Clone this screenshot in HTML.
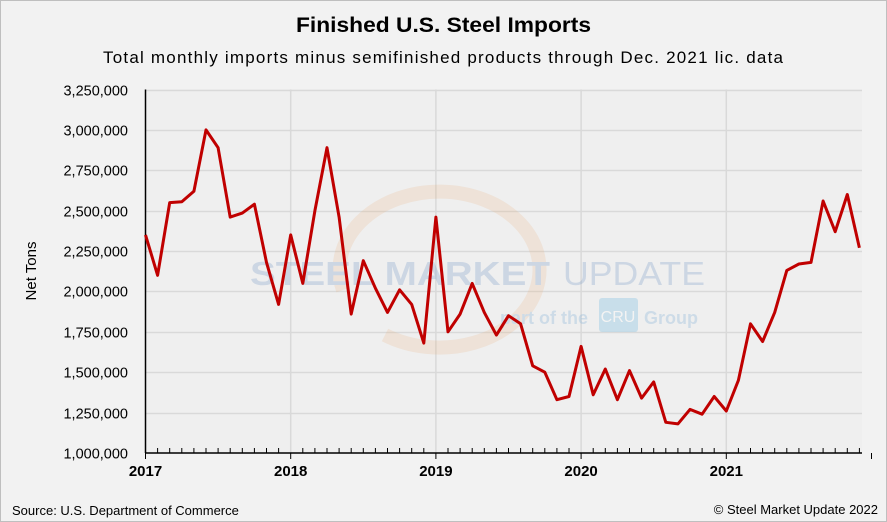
<!DOCTYPE html>
<html><head><meta charset="utf-8"><style>
html,body{margin:0;padding:0;background:#f2f2f2;}
svg{display:block;font-family:"Liberation Sans",sans-serif;}
</style></head><body>
<svg id="chart" width="887" height="522" viewBox="0 0 887 522">
<rect x="0.5" y="0.5" width="886" height="521" fill="#f2f2f2" stroke="#bfbfbf"/>
<text x="296" y="32" textLength="295" lengthAdjust="spacingAndGlyphs" font-size="21" font-weight="bold" fill="#000">Finished U.S. Steel Imports</text>
<text x="103" y="63" textLength="680" lengthAdjust="spacing" font-size="17" fill="#000">Total monthly imports minus semifinished products through Dec. 2021 lic. data</text>
<rect x="145" y="89" width="717" height="364" fill="#efefef"/>
<g id="grid"></g>
<g opacity="0.3">
<path d="M343 290 A100 78 0 1 1 385 335" fill="none" stroke="#e8b080" stroke-width="14" opacity="0.7"/>
<text x="250" y="285" textLength="300" lengthAdjust="spacingAndGlyphs" font-size="33" font-weight="bold" fill="#7f9fc8">STEEL MARKET</text>
<text x="563" y="285" textLength="142" lengthAdjust="spacingAndGlyphs" font-size="33" fill="#7f9fc8">UPDATE</text>
<text x="500" y="324" font-size="18" font-weight="bold" fill="#80b0d8">part of the</text>
<rect x="599" y="298" width="39" height="34" rx="3" fill="#70b8e0"/>
<text x="618" y="322" text-anchor="middle" font-size="16" fill="#fff">CRU</text>
<text x="644" y="324" font-size="18" font-weight="bold" fill="#80b0d8">Group</text>
</g>
<g id="axes"></g>
<path id="series" fill="none" stroke="#c00000" stroke-width="3" stroke-linejoin="round"/>
<text transform="translate(36,271) rotate(-90)" text-anchor="middle" font-size="15">Net Tons</text>
<text x="12" y="515" font-size="13">Source: U.S. Department of Commerce</text>
<text x="878" y="514" text-anchor="end" font-size="13">© Steel Market Update 2022</text>
</svg>
<script>
const years = ["2017","2018","2019","2020","2021"];
const yTicks = [1000000,1250000,1500000,1750000,2000000,2250000,2500000,2750000,3000000,3250000];
const imports2017 = [2350000,2100000,2550000,2555000,2620000,3000000,2890000,2460000,2485000,2540000,2180000,1920000];
const imports2018 = [2350000,2050000,2500000,2890000,2460000,1860000,2190000,2020000,1870000,2010000,1920000,1680000];
const imports2019 = [2460000,1750000,1860000,2050000,1870000,1730000,1850000,1800000,1540000,1500000,1330000,1350000];
const imports2020 = [1660000,1360000,1520000,1330000,1510000,1340000,1440000,1190000,1180000,1270000,1240000,1350000];
const imports2021 = [1260000,1450000,1800000,1690000,1870000,2130000,2170000,2180000,2560000,2370000,2600000,2270000];
const values = [].concat(imports2017,imports2018,imports2019,imports2020,imports2021);

const X0=145.5, MONTH=12.1, Y0=453, Y1=89.5, VMIN=1000000, VMAX=3250000;
const xScale = i => X0 + i*MONTH;
const yScale = v => Y0 - (v-VMIN)/(VMAX-VMIN)*(Y0-Y1);
const NS="http://www.w3.org/2000/svg";
const grid=document.getElementById('grid'), axes=document.getElementById('axes');
function mk(tag, attrs, parent){const e=document.createElementNS(NS,tag);for(const k in attrs)e.setAttribute(k,attrs[k]);parent.appendChild(e);return e;}
yTicks.forEach(v=>{
  const y=Math.round(yScale(v))+0.5;
  if(v>VMIN){const g=mk('line',{x1:X0,x2:862,y1:y,y2:y,stroke:'#d9d9d9','stroke-width':1.5},grid);
  
  }
  const t=mk('text',{x:128,y:y+5,'text-anchor':'end','font-size':14.5},axes);
  t.textContent=v.toLocaleString('en-US');
  
  
});
years.forEach((yr,k)=>{
  const x=xScale(k*12);
  if(k>0){const g=mk('line',{x1:x,x2:x,y1:Y1,y2:Y0,stroke:'#d9d9d9','stroke-width':1.5},grid);
  
  }
  const t=mk('text',{x:x,y:476,'text-anchor':'middle','font-size':15,'font-weight':'bold'},axes);
  t.textContent=yr;
  
  
});
for(let i=0;i<=values.length;i++){
  const x=xScale(i), major=i%12===0;
  const l=mk('line',{x1:x,x2:x,y1:major?Y0:Y0-5,y2:major?Y0+6:Y0,stroke:'#000','stroke-width':1},axes);
  
  
}
const ax=mk('line',{x1:X0,x2:862,y1:Y0,y2:Y0,stroke:'#000','stroke-width':1.5},axes);


const ay=mk('line',{x1:X0,x2:X0,y1:Y1,y2:Y0,stroke:'#000','stroke-width':1.5},axes);


document.getElementById('series').setAttribute('d', values.map((v,i)=>(i?'L':'M')+xScale(i).toFixed(1)+' '+yScale(v).toFixed(1)).join(' '));
</script>
</body></html>
